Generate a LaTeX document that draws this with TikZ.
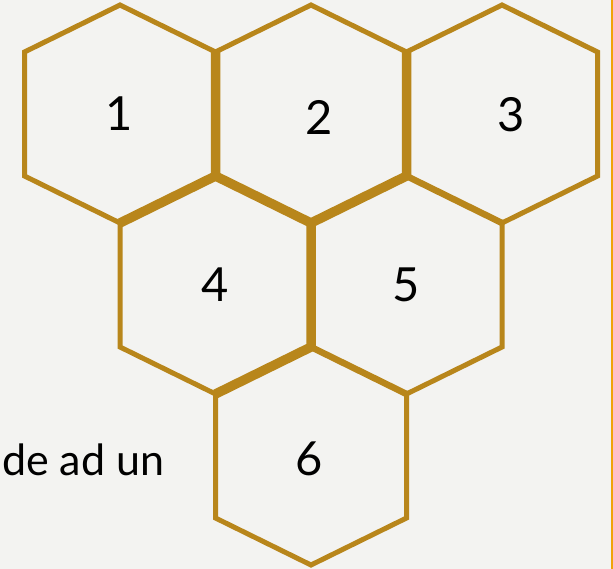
\documentclass[tikz,border=0pt]{standalone}
\usepackage{fontspec}
\setmainfont{Lato}
\usetikzlibrary{calc}
\definecolor{honey}{RGB}{184,134,27}
\definecolor{paper}{RGB}{243,243,241}
\definecolor{rim}{RGB}{240,163,10}
\tikzset{
  hexline/.style={draw=honey,line width=5pt,line join=miter},
  seam/.style={draw=honey,line width=9.5pt,line join=miter},
  thinseam/.style={draw=honey,line width=6.5pt,line join=miter},
  hexlabel/.style={font=\fontsize{47}{56}\selectfont,inner sep=0pt},
  sidetext/.style={font=\fontsize{43}{52}\selectfont,inner sep=0pt},
  every picture/.style={line cap=butt}
}

\begin{document}
\begin{tikzpicture}[x=1pt,y=-1pt]
    \fill[paper] (0,0) rectangle (613,569);
    \useasboundingbox (0,0) rectangle (613,569);
    \draw[rim,line width=1.5pt] (612.2,0) -- (612.2,569);

    \coordinate (h1) at (120,114);
    \coordinate (h2) at (311,114);
    \coordinate (h3) at (502,114);
    \coordinate (h4) at (215.5,285);
    \coordinate (h5) at (406.5,285);
    \coordinate (h6) at (311,456);

    % corners of each cell
    \foreach \c in {h1,h2,h3,h4,h5,h6} {
      \coordinate (\c-n) at ($(\c)+(0,-109)$);
      \coordinate (\c-ne) at ($(\c)+(95.5,-62)$);
      \coordinate (\c-se) at ($(\c)+(95.5,62)$);
      \coordinate (\c-s) at ($(\c)+(0,109)$);
      \coordinate (\c-sw) at ($(\c)+(-95.5,62)$);
      \coordinate (\c-nw) at ($(\c)+(-95.5,-62)$);
      \draw[hexline] (\c-n) -- (\c-ne) -- (\c-se) -- (\c-s) -- (\c-sw) -- (\c-nw) -- cycle;
    }

    % shared edges
    \draw[seam] (h1-ne) -- (h1-se) -- (h1-s);
    \draw[seam] (h2-sw) -- (h2-s) -- (h2-se) -- (h2-ne);
    \draw[seam] (h4-ne) -- (h4-se) -- (h4-s);
    \draw[thinseam] (h3-sw) -- (h3-s)
                    (h5-sw) -- (h5-s);

    \node[hexlabel] (n1) at ($(h1)+(-1,0)$) {1};
    \node[hexlabel] (n2) at ($(h2)+(8,3)$) {2};
    \node[hexlabel] (n3) at ($(h3)+(9,1)$) {3};
    \node[hexlabel] (n4) at (h4) {4};
    \node[hexlabel] (n5) at (h5) {5};
    \node[hexlabel] (n6) at ($(h6)+(-2,3)$) {6};

    \node[sidetext,anchor=base west] (side) at (2,475) {de ad un};
\end{tikzpicture}
\end{document}
